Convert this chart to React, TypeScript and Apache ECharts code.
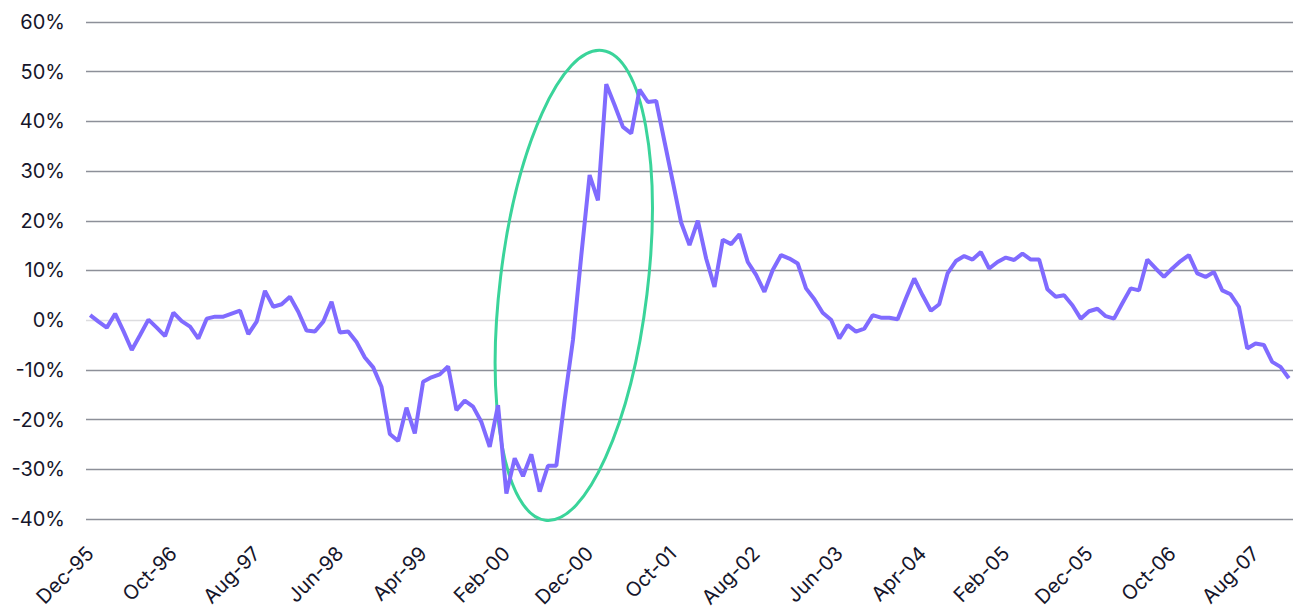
import React, { useEffect, useRef } from "react";
import * as echarts from "echarts";

const monthNames = ["Jan", "Feb", "Mar", "Apr", "May", "Jun", "Jul", "Aug", "Sep", "Oct", "Nov", "Dec"];
const startYear = 1995;
const startMonth = 11; // Dec
const pointCount = 145;

const categories: string[] = [];
for (let i = 0; i < pointCount; i++) {
  const m = (startMonth + i) % 12;
  const y = startYear + Math.floor((startMonth + i) / 12);
  categories.push(monthNames[m] + "-" + String(y % 100).padStart(2, "0"));
}

const values: number[] = [
  1.0, -0.3, -1.5, 1.3, -2.2, -6.0, -3.0, 0.1, -1.5, -3.2, 1.5, -0.2, -1.3, -3.7, 0.3, 0.7, 0.7, 1.3, 1.9, -2.8, -0.3, 5.9, 2.7, 3.2, 4.7,
  1.7, -2.1, -2.3, -0.3, 3.7, -2.5, -2.3, -4.4, -7.5, -9.5, -13.4, -22.9, -24.3, -17.6, -22.8, -12.4, -11.5, -10.9, -9.3, -18.1, -16.2, -17.4, -20.5, -25.5,
  -17.1, -34.9, -27.8, -31.4, -27.0, -34.5, -29.3, -29.3, -16.1, -4.0, 13.0, 29.2, 24.1, 47.5, 43.3, 38.9, 37.6, 46.4, 43.9, 44.1, 35.9, 27.8, 19.6, 15.1,
  20.0, 12.4, 6.7, 16.2, 15.3, 17.3, 11.7, 9.1, 5.7, 10.1, 13.1, 12.4, 11.4, 6.4, 4.2, 1.5, 0.1, -3.7, -1.0, -2.3, -1.7, 1.0, 0.5, 0.5,
  0.2, 4.4, 8.4, 5.0, 1.9, 3.2, 9.4, 11.9, 12.9, 12.2, 13.7, 10.4, 11.7, 12.6, 12.1, 13.4, 12.2, 12.2, 6.2, 4.7, 5.0, 3.0, 0.3, 1.8,
  2.3, 0.8, 0.3, 3.4, 6.4, 6.0, 12.2, 10.4, 8.7, 10.4, 11.9, 13.1, 9.4, 8.7, 9.7, 6.0, 5.2, 2.7, -5.7, -4.7, -5.0, -8.4, -9.4, -11.7,
];

const yTicks = [-40, -30, -20, -10, 0, 10, 20, 30, 40, 50, 60];

// highlight ellipse, in data units: center (category index, value), half-sizes
const ellipseCenter = [58.1, 7.0];
const ellipseHalfIndex = 8.85; // half width in months
const ellipseHalfValue = 47.6; // half height in %
const ellipseTilt = -0.12; // radians

const gridColor = "#8d9099";
const zeroColor = "#dcdcdf";
const lineColor = "#806bff";
const ellipseColor = "#3ad49a";
const textColor = "#16162b";
const font = "Inter";

export default function App() {
  const ref = useRef<HTMLDivElement>(null);
  useEffect(() => {
    if (!ref.current) return;
    const chart = echarts.init(ref.current, undefined, { renderer: "svg" });
    const splitColors = yTicks.map((t) => (t === 0 ? zeroColor : gridColor));
    chart.setOption({
      animation: false,
      backgroundColor: "#ffffff",
      grid: { left: 86, right: 0, top: 22, bottom: 90.7 },
      xAxis: {
        type: "category",
        data: categories,
        boundaryGap: true,
        axisLine: { show: false },
        axisTick: { show: false },
        axisLabel: {
          interval: 9,
          rotate: 45,
          margin: 31,
          color: textColor,
          fontFamily: font,
          fontSize: 20,
        },
        splitLine: { show: false },
      },
      yAxis: {
        type: "value",
        min: yTicks[0],
        max: yTicks[yTicks.length - 1],
        interval: 10,
        axisLine: { show: false },
        axisTick: { show: false },
        axisLabel: {
          formatter: "{value}%",
          margin: 21,
          color: textColor,
          fontFamily: font,
          fontSize: 20,
        },
        splitLine: { show: true, lineStyle: { color: splitColors, width: 1.3 } },
      },
      series: [
        {
          type: "line",
          data: values,
          symbol: "none",
          lineStyle: { color: lineColor, width: 4 },
          z: 3,
        },
      ],
    });

    const c = chart.convertToPixel({ xAxisIndex: 0, yAxisIndex: 0 }, [0, ellipseCenter[1]]) as number[];
    const c1 = chart.convertToPixel({ xAxisIndex: 0, yAxisIndex: 0 }, [1, ellipseCenter[1] + ellipseHalfValue]) as number[];
    const pxPerIndex = c1[0] - c[0];
    const cx = c[0] + pxPerIndex * ellipseCenter[0];
    const cy = c[1];
    const ry = cy - c1[1];
    const rx = pxPerIndex * ellipseHalfIndex;

    chart.setOption({
      graphic: [
        {
          type: "ellipse",
          x: cx,
          y: cy,
          rotation: ellipseTilt,
          shape: { cx: 0, cy: 0, rx, ry },
          style: { fill: "none", stroke: ellipseColor, lineWidth: 3 },
          z: 1,
        },
      ],
    });

    return () => chart.dispose();
  }, []);
  return (
    <div
      ref={ref}
      style={{ position: "fixed", left: 0, top: 0, width: 1293, height: 610 }}
    />
  );
}
